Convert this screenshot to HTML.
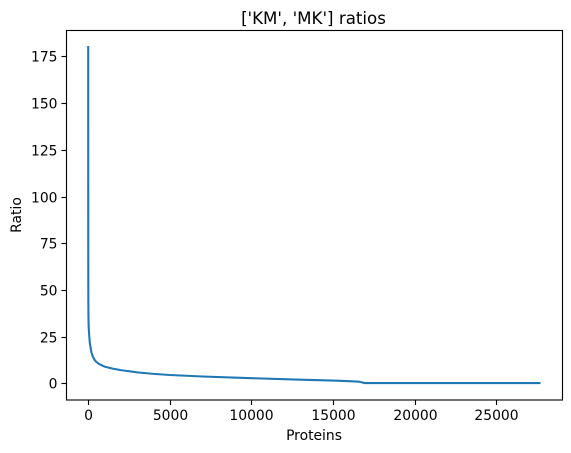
<!DOCTYPE html>
<html lang="en">
<head>
<meta charset="utf-8">
<title>['KM', 'MK'] ratios</title>
<style>
html,body{margin:0;padding:0;background:#fff;}
svg{display:block;font-family:"DejaVu Sans",sans-serif;fill:#000;}
</style>
</head>
<body>
<svg id="chart" width="571" height="453" viewBox="0 0 571 453" xmlns="http://www.w3.org/2000/svg">
  <text x="313.5" y="24" text-anchor="middle" style="font-size:16.67px">['KM', 'MK'] ratios</text>
  <text x="314" y="440" font-size="13.89" text-anchor="middle">Proteins</text>
  <text transform="translate(21,215) rotate(-90)" font-size="13.89" text-anchor="middle">Ratio</text>
  <g id="ticks"></g>
  <path id="series" fill="none" stroke="#1f77b4" stroke-width="2.08" stroke-linejoin="round" stroke-linecap="square"></path>
  <rect x="66.5" y="30.5" width="496" height="369.5" fill="none" stroke="#000" stroke-width="1.11"></rect>
</svg>
<script>
const proteinRanks = [0, 1, 3, 8, 15, 30, 50, 100, 200, 300, 400, 500, 700, 1000, 1500, 2000, 3000, 4000, 5000, 7000, 10000, 13000, 15000, 16000, 16600, 16800, 16900, 18000, 22000, 27640];
const ratioValues = [180, 110, 70, 45, 36, 30, 27, 21.5, 16.5, 14, 12.5, 11.5, 10.2, 9, 7.9, 7.1, 5.9, 5.1, 4.5, 3.7, 2.8, 2.0, 1.5, 1.2, 0.9, 0.5, 0.2, 0.2, 0.2, 0.2];
const xTickValues = [0, 5000, 10000, 15000, 20000, 25000];
const yTickValues = [0, 25, 50, 75, 100, 125, 150, 175];

const xScale = v => 88.2 + v * (496.4 - 88.2) / 25000;
const yScale = v => 383.4 - v * (383.4 - 56.4) / 175;
const NS = 'http://www.w3.org/2000/svg';
const tickGroup = document.getElementById('ticks');

function addTick(x1, y1, x2, y2) {
  const line = document.createElementNS(NS, 'line');
  line.setAttribute('x1', x1);
  line.setAttribute('y1', y1);
  line.setAttribute('x2', x2);
  line.setAttribute('y2', y2);
  line.setAttribute('stroke', '#000');
  line.setAttribute('stroke-width', '1.11');
  
  
  tickGroup.appendChild(line);
}

function addLabel(x, y, anchor, content) {
  const label = document.createElementNS(NS, 'text');
  label.setAttribute('x', x);
  label.setAttribute('y', y);
  label.setAttribute('text-anchor', anchor);
  label.setAttribute('font-size', '13.89');
  
  
  label.textContent = content;
  tickGroup.appendChild(label);
}

xTickValues.forEach(v => {
  const x = Math.round(xScale(v)) + 0.5;
  addTick(x, 400, x, 405);
  addLabel(x, 420, 'middle', String(v));
});

yTickValues.forEach(v => {
  const y = Math.round(yScale(v)) + 0.5;
  addTick(66.5, y, 61.5, y);
  addLabel(57.5, y + 5.2, 'end', String(v));
});

document.getElementById('series').setAttribute('d',
  proteinRanks.map((r, i) => (i ? 'L' : 'M') + xScale(r).toFixed(2) + ' ' + yScale(ratioValues[i]).toFixed(2)).join(' '));
</script>
</body>
</html>
